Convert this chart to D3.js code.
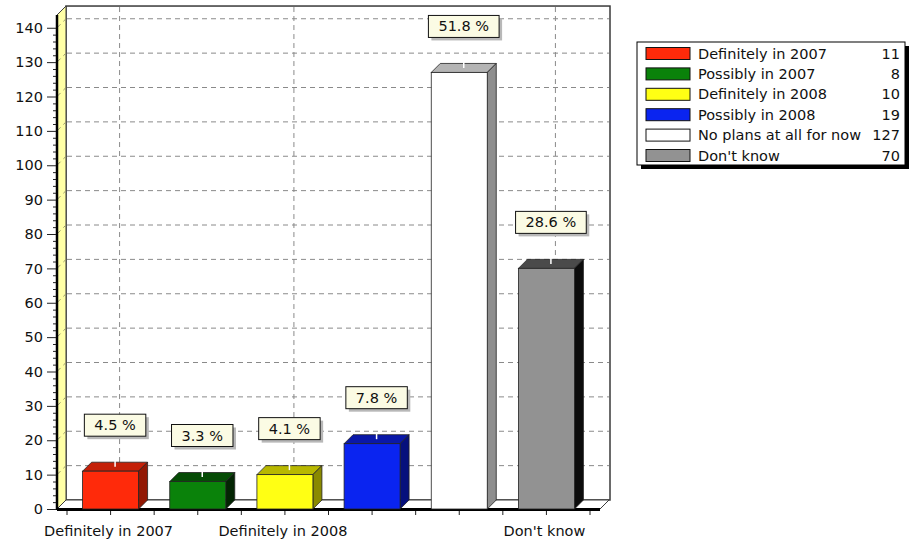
<!DOCTYPE html>
<html>
<head>
<meta charset="utf-8">
<script src="https://cdn.jsdelivr.net/npm/d3@7"></script>
<style>
  html, body { margin: 0; padding: 0; background: #ffffff; }
  svg { display: block; }
  text { font-family: "DejaVu Sans", Verdana, sans-serif; fill: #111; }
</style>
</head>
<body>
<svg id="chart" width="916" height="546"></svg>
<script>
// Survey answers and their counts
const categories = ["Definitely in 2007", "Possibly in 2007", "Definitely in 2008",
                    "Possibly in 2008", "No plans at all for now", "Don't know"];
const counts = [11, 8, 10, 19, 127, 70];
// Categories that carry an x-axis label (and a vertical grid line)
const labelledCategories = ["Definitely in 2007", "Definitely in 2008", "Don't know"];
const yTicks = [0, 10, 20, 30, 40, 50, 60, 70, 80, 90, 100, 110, 120, 130, 140];

// Face colours for each bar: front, top, side
const frontColors = ["#ff2a0a", "#0a820a", "#ffff14", "#0a24f0", "#ffffff", "#929292"];
const topColors   = ["#c42008", "#064c06", "#b8b800", "#0a18a8", "#b4b4b4", "#4a4a4a"];
const sideColors  = ["#921804", "#032503", "#8a8a00", "#06107c", "#8e8e8e", "#0c0c0c"];

const svg = d3.select("#chart");
const dx = 9, dy = -9;              // depth offset of the 3D box
const left = 57, right = 600;        // front plane extents
const total = d3.sum(counts);
const fs = 14.5;

const y = d3.scaleLinear().domain([0, 144]).range([509, 14]);
const x = d3.scaleBand().domain(categories).range([67, 590]).paddingInner(0).paddingOuter(0);
const barW = 56;
const cx = c => x(c) + x.bandwidth() / 2;

const y0 = y(0), yTop = y(143.7);

// Back wall
svg.append("rect")
  .attr("x", left + dx).attr("y", yTop + dy)
  .attr("width", right - left + 1).attr("height", y0 - yTop)
  .attr("fill", "#ffffff").attr("stroke", "#3a3a3a").attr("stroke-width", 1.5);

// Left wall
svg.append("polygon")
  .attr("points", [[left, yTop], [left + dx, yTop + dy], [left + dx, y0 + dy], [left, y0]].join(" "))
  .attr("fill", "#ffffa6").attr("stroke", "#3a3a3a").attr("stroke-width", 1);

// Floor
svg.append("polygon")
  .attr("points", [[left, y0], [right, y0], [right + dx, y0 + dy], [left + dx, y0 + dy]].join(" "))
  .attr("fill", "#ffffff").attr("stroke", "#3a3a3a").attr("stroke-width", 1);

// Horizontal grid lines on back and left walls
const grid = svg.append("g").attr("stroke", "#8a8a8a").attr("stroke-dasharray", "5,4").attr("fill", "none");
yTicks.filter(v => v > 0).forEach(v => {
  grid.append("line")
    .attr("x1", left + dx + 1).attr("x2", right + dx)
    .attr("y1", y(v) + dy).attr("y2", y(v) + dy);
  grid.append("line")
    .attr("x1", left).attr("x2", left + dx)
    .attr("y1", y(v)).attr("y2", y(v) + dy)
    .attr("stroke-dasharray", null).attr("stroke", "#9a9a6a");
});
// Vertical grid lines at labelled categories
labelledCategories.forEach(c => {
  grid.append("line")
    .attr("x1", cx(c) + dx).attr("x2", cx(c) + dx)
    .attr("y1", yTop + dy + 1).attr("y2", y0 + dy);
});

// Thick front edges
svg.append("line").attr("x1", left).attr("x2", left).attr("y1", yTop).attr("y2", y0 + 1)
  .attr("stroke", "#000").attr("stroke-width", 2.5);
svg.append("line").attr("x1", left).attr("x2", right).attr("y1", y0 + 0.5).attr("y2", y0 + 0.5)
  .attr("stroke", "#000").attr("stroke-width", 3);

// Y axis: major and minor ticks
const yAxis = svg.append("g").attr("transform", `translate(${left - 1},0)`)
  .call(d3.axisLeft(y).tickValues(yTicks).tickSize(9).tickPadding(4));
yAxis.select(".domain").remove();
yAxis.selectAll("line").attr("stroke", "#222");
yAxis.selectAll("text").attr("font-size", fs).attr("font-family", "DejaVu Sans").attr("fill", "#111");
const minor = d3.range(0, 142, 2).filter(v => v % 10 !== 0);
const yMinor = svg.append("g").attr("transform", `translate(${left - 1},0)`)
  .call(d3.axisLeft(y).tickValues(minor).tickSize(3).tickFormat(""));
yMinor.select(".domain").remove();
yMinor.selectAll("line").attr("stroke", "#222");

// X axis ticks at category centres and boundaries
const xTickPos = [];
categories.forEach(c => { xTickPos.push(x(c)); xTickPos.push(cx(c)); });
xTickPos.push(x(categories[categories.length - 1]) + x.bandwidth());
svg.append("g").selectAll("line").data(xTickPos).join("line")
  .attr("x1", d => d).attr("x2", d => d).attr("y1", y0 + 2).attr("y2", y0 + 6)
  .attr("stroke", "#222");

// X axis labels
svg.append("g").selectAll("text").data(labelledCategories).join("text")
  .attr("x", d => cx(d) - 2).attr("y", 536)
  .attr("text-anchor", "middle").attr("font-size", fs)
  .text(d => d);

// Bars
const bars = svg.append("g").selectAll("g").data(categories).join("g");
bars.each(function (c, i) {
  const g = d3.select(this);
  const x0 = cx(c) - barW / 2, x1 = cx(c) + barW / 2, yt = y(counts[i]);
  g.append("polygon")
    .attr("points", [[x0, yt], [x1, yt], [x1 + dx, yt + dy], [x0 + dx, yt + dy]].join(" "))
    .attr("fill", topColors[i]).attr("stroke", "#222").attr("stroke-width", 0.8);
  g.append("polygon")
    .attr("points", [[x1, yt], [x1 + dx, yt + dy], [x1 + dx, y0 + dy], [x1, y0]].join(" "))
    .attr("fill", sideColors[i]).attr("stroke", "#222").attr("stroke-width", 0.8);
  g.append("rect")
    .attr("x", x0).attr("y", yt).attr("width", barW).attr("height", y0 - yt)
    .attr("fill", frontColors[i]).attr("stroke", "#222").attr("stroke-width", 0.8);
  // short label connector on the top face
  g.append("line")
    .attr("x1", cx(c) + dx / 2).attr("x2", cx(c) + dx / 2)
    .attr("y1", yt + dy / 2).attr("y2", yt + dy - 2)
    .attr("stroke", "#ffffff").attr("stroke-width", 1.5);
});

// Percentage labels
const labels = svg.append("g").selectAll("g").data(categories).join("g");
labels.each(function (c, i) {
  const g = d3.select(this);
  const txt = (counts[i] / total * 100).toFixed(1) + " %";
  const lx = cx(c) + dx / 2, ly = y(counts[i]) + dy - 26;
  const t = g.append("text").attr("x", lx).attr("y", ly - 6)
    .attr("text-anchor", "middle").attr("font-size", fs).text(txt);
  const bb = t.node().getBBox();
  const w = bb.width + 20, h = 22;
  g.insert("rect", "text").attr("x", lx - w / 2 + 3).attr("y", ly - h + 3)
    .attr("width", w).attr("height", h).attr("fill", "#b8b8b8");
  g.insert("rect", "text").attr("x", lx - w / 2).attr("y", ly - h)
    .attr("width", w).attr("height", h).attr("fill", "#fbfbe4")
    .attr("stroke", "#111").attr("stroke-width", 1);
});

// Legend
const lg = svg.append("g");
const lgX = 637, lgY = 42, lgW = 268, lgH = 123;
lg.append("rect").attr("x", lgX + 4).attr("y", lgY + 4).attr("width", lgW).attr("height", lgH).attr("fill", "#000");
lg.append("rect").attr("x", lgX).attr("y", lgY).attr("width", lgW).attr("height", lgH)
  .attr("fill", "#fff").attr("stroke", "#000").attr("stroke-width", 1);
const rows = lg.selectAll("g.row").data(categories).join("g").attr("class", "row")
  .attr("transform", (d, i) => `translate(0,${53.5 + i * 20.4})`);
rows.append("rect").attr("x", 646).attr("y", -6).attr("width", 44).attr("height", 12)
  .attr("fill", (d, i) => frontColors[i]).attr("stroke", "#111").attr("stroke-width", 1);
rows.append("text").attr("x", 698).attr("y", 5).attr("font-size", fs).text(d => d);
rows.append("text").attr("x", 900).attr("y", 5).attr("font-size", fs)
  .attr("text-anchor", "end").text((d, i) => counts[i]);
</script>
</body>
</html>
